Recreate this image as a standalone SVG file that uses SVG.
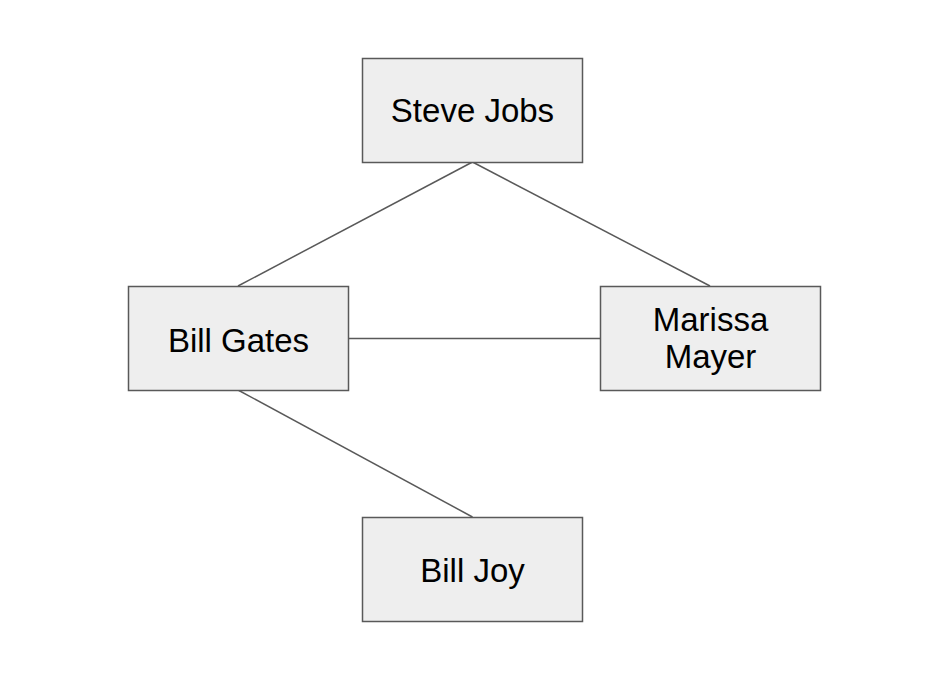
<svg xmlns="http://www.w3.org/2000/svg" width="952" height="680" viewBox="0 0 952 680">
<style>
.box{fill:#eeeeee;stroke:#595959;stroke-width:1.5}
.lbl{font-family:"Liberation Sans",Arial,sans-serif;font-size:33px;fill:#000;text-anchor:middle}
.edge{stroke:#595959;stroke-width:1.5;fill:none}
</style>
<rect width="952" height="680" fill="#fff"/>
<g id="edges">
<line class="edge" x1="472.5" y1="162" x2="238" y2="286"/>
<line class="edge" x1="472.5" y1="162" x2="710" y2="286"/>
<line class="edge" x1="348" y1="338.5" x2="600" y2="338.5"/>
<line class="edge" x1="238" y1="390" x2="472.5" y2="517"/>
</g>
<g id="steve-jobs">
<rect class="box" x="362.5" y="58.5" width="220" height="104"/>
<text class="lbl" x="472.5" y="122">Steve Jobs</text>
</g>
<g id="bill-gates">
<rect class="box" x="128.5" y="286.5" width="220" height="104"/>
<text class="lbl" x="238.5" y="352">Bill Gates</text>
</g>
<g id="marissa-mayer">
<rect class="box" x="600.5" y="286.5" width="220" height="104"/>
<text class="lbl" x="710.5" y="331">Marissa</text>
<text class="lbl" x="710.5" y="368">Mayer</text>
</g>
<g id="bill-joy">
<rect class="box" x="362.5" y="517.5" width="220" height="104"/>
<text class="lbl" x="472.5" y="582">Bill Joy</text>
</g>
</svg>
